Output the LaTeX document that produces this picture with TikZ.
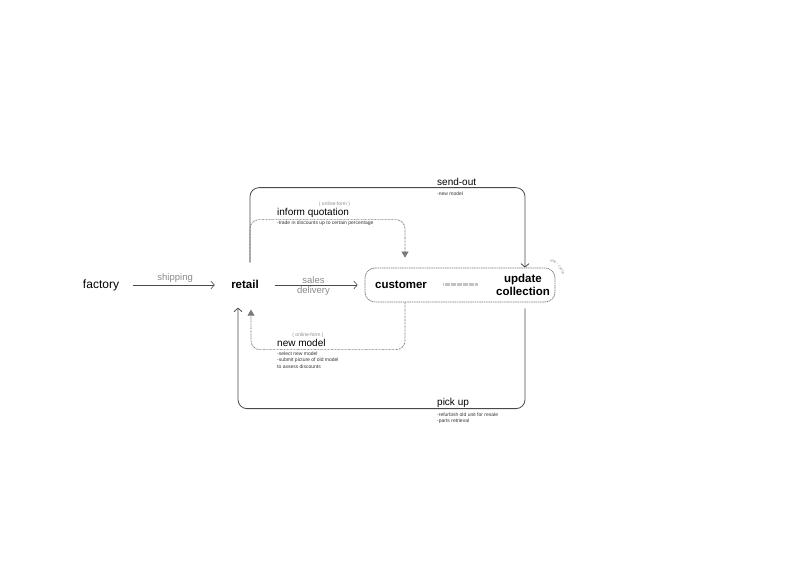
\documentclass[tikz,border=0pt]{standalone}
\usepackage{fontspec}
\setmainfont{Liberation Sans}
\usetikzlibrary{positioning,arrows.meta,decorations.text}
\definecolor{linegray}{HTML}{4A4A4A}
\definecolor{textgray}{HTML}{8A8A8A}
\definecolor{dashgray}{HTML}{7A7A7A}
\tikzset{
	word/.style={text height=1.5ex, text depth=.25ex},
	bold/.style={font=\bfseries\fontsize{11.5}{13}\selectfont},
	flow/.style={->, linegray, line width=0.6pt},
	loop/.style={->, linegray, line width=0.8pt, rounded corners=9pt},
	form/.style={-{Triangle[length=6pt,width=7pt]}, dashgray, line width=0.7pt, dash pattern=on 1.6pt off 0.7pt on 0.4pt off 0.7pt, rounded corners=9pt},
	big/.style={font=\fontsize{10}{12}\selectfont, inner sep=0pt},
	small/.style={font=\fontsize{5}{6.5}\selectfont, inner sep=0pt, align=left, text=black!80},
	tag/.style={font=\fontsize{5}{6}\selectfont, inner sep=0pt, text=textgray},
}
\begin{document}
\begin{tikzpicture}[x=1pt, y=1pt, >={Straight Barb[length=3.5pt,width=8pt]}]
	\useasboundingbox (0,0) rectangle (804,569);
	\node[word, font=\fontsize{12}{14}\selectfont] 						(factory) 	at (101,284) {factory};
	\node[word, bold, right of=factory, node distance=144pt] 			(retail) 	{retail};
	\node[right of=retail, node distance=215pt, minimum width=190pt, minimum height=34pt, rounded corners=10pt, draw=dashgray, line width=0.7pt, dash pattern=on 1.2pt off 0.6pt] (box) {};
	\node[word, bold, right of=retail, node distance=156pt] 			(customer) {customer};
	\node[bold, align=center, right of=customer, node distance=122pt] 	(update) 	{update\\collection};

	\draw[flow, shorten <=10pt, shorten >=13pt] (factory) --node[above, text=textgray, font=\fontsize{9.5}{11}\selectfont, inner sep=2pt] (shipping) {shipping} (retail);
	\draw[flow, shorten <=13pt, shorten >=7pt] (retail) --node[above, text=textgray, font=\fontsize{9.5}{11}\selectfont, inner sep=1.5pt] (sales) {sales} node[below, text=textgray, font=\fontsize{9.5}{11}\selectfont, inner sep=1.5pt] (delivery) {delivery} (box);
	\draw[dashgray!45, line width=3pt, dash pattern=on 0.6pt off 0.6pt, shorten <=13pt, shorten >=15pt] (customer) -- (update);

	\draw[form, shorten >=10pt] ([xshift=5pt,yshift=14.5pt]retail.north) |- ([xshift=-55pt,yshift=48pt]box.north) -- ([xshift=-55pt]box.north);
	\draw[loop] ([xshift=5pt,yshift=14.5pt]retail.north) |- ([xshift=65pt,yshift=80pt]box.north) -- ([xshift=65pt]box.north);
	\draw[form, shorten >=16.5pt] ([xshift=-55pt]box.south) |- ([xshift=6pt,yshift=-56.5pt]retail.south) -- ([xshift=6pt]retail.south);
	\draw[loop, shorten <=6pt, shorten >=14.5pt] ([xshift=65pt]box.south) |- ([xshift=-7pt,yshift=-115.5pt]retail.south) -- ([xshift=-7pt]retail.south);

	\node[big, anchor=base west] 	(sendout) 	at (437,383) 	{send-out};
	\node[small, anchor=base west] 	(sendnote) 	at (437,373) 	{-new model};
	\node[tag] 						(quoteform) at (334.5,365) 	{( online-form )};
	\node[big, anchor=base west] 	(quote) 	at (277,353) 	{inform quotation};
	\node[small, anchor=base west] 	(quotenote) at (277,344.5) 	{-trade in discounts up to certain percentage};
	\node[tag] 						(modelform) at (308,234) 	{( online-form )};
	\node[big, anchor=base west] 	(newmodel) 	at (277,222) 	{new model};
	\node[small, anchor=north west] (modelnote) at (277,217.5) 	{-select new model\\-submit picture of old model\\to assess discounts};
	\node[big, anchor=base west] 	(pickup) 	at (437,163) 	{pick up};
	\node[small, anchor=north west] (pickupnote) at (437,156.5) {-refurbish old unit for resale\\-parts retrieval};

	\path[decorate, decoration={text along path, text align=center, text color=textgray, text={|\fontsize{4}{4}\selectfont|use - cycle}}] ([xshift=-10pt,yshift=7pt]box.north east) arc[start angle=90, end angle=-5, radius=17pt];
\end{tikzpicture}
\end{document}
